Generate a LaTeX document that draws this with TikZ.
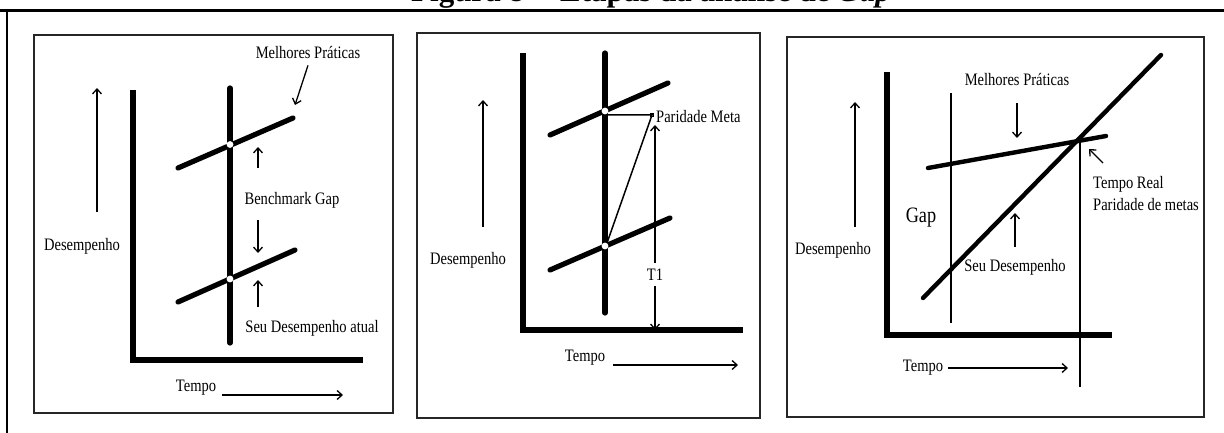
\documentclass[tikz,border=0pt]{standalone}
\usepackage{fontspec}
\setmainfont{Liberation Serif}[FakeStretch=0.83]
\newfontfamily\titlefont{Liberation Serif}
\usetikzlibrary{arrows.meta}

\begin{document}
\begin{tikzpicture}[x=1pt,y=-1pt,
  panel/.style={draw=black!85, line width=1.6pt},
  heavy/.style={line width=5.2pt, line cap=round},
  axes/.style={line width=5.2pt, line cap=butt, line join=miter},
  thin/.style={line width=1.3pt},
  arr/.style={thin, -{Straight Barb[length=5pt,width=9pt]}},
  lbl/.style={inner sep=0pt, font=\fontsize{17.5}{19}\selectfont},
  gapdot/.style={fill=white, draw=none},
]
\useasboundingbox (0,0) rectangle (1224,433);
\clip (0,0) rectangle (1224,433);

% caption line, mostly above the page edge
\node[anchor=base west, inner sep=0pt,
      font=\titlefont\bfseries\fontsize{31}{33}\selectfont] (title) at (411,1.5)
  {Figura 8 -- Etapas da análise de \textit{Gap}};

% outer frame
\draw[line width=2.4pt] (0,10.5) -- (1224,10.5);
\draw[line width=2pt] (6.5,10.5) -- (6.5,433);

% the three panels
\draw[panel] (34,35) rectangle (393,413);
\draw[panel] (417,33) rectangle (760,418);
\draw[panel] (787,37) rectangle (1204,417);

% ---------- panel 1 ----------
\coordinate (a1top) at (133,90);
\coordinate (a1o)   at (133,360);
\coordinate (a1end) at (363,360);
\draw[axes] (a1top) -- (a1o) -- (a1end);
\draw[heavy] (230,88) -- (230,343);
\draw[heavy] (178,168) -- (293,118);
\draw[heavy] (178,302) -- (295,250);
\fill[gapdot] (230,144.5) circle (3.4);
\fill[gapdot] (230,279) circle (3.4);

\node[lbl] (mp1) at (308,53) {Melhores Práticas};
\coordinate (mp1tip) at (295,105);
\draw[arr] (mp1.south) ++(0,6) -- (mp1tip);
\node[lbl] (bg1) at (292,200) {Benchmark Gap};
\draw[arr] (258,168) -- (258,147);
\draw[arr] (258,220) -- (258,253);
\draw[arr] (258,307) -- (258,280);
\node[lbl] (sd1) at (312,328) {Seu Desempenho atual};
\node[lbl] (de1) at (82,246) {Desempenho};
\draw[arr] (97,212) -- (97,88);
\node[lbl] (te1) at (196,388) {Tempo};
\draw[arr] (222,395) -- (343,395);

% ---------- panel 2 ----------
\coordinate (a2top) at (523,53);
\coordinate (a2o)   at (523,330);
\coordinate (a2end) at (743,330);
\draw[axes] (a2top) -- (a2o) -- (a2end);
\draw[heavy] (605,53) -- (605,313);
\draw[heavy] (550,135) -- (668,83);
\draw[heavy] (550,270) -- (670,218);
\fill[gapdot] (605,111) circle (3.4);
\fill[gapdot] (605,246) circle (3.4);

\coordinate (pm) at (652,115);
\draw[line width=1.5pt] (608,115) -- (pm) -- (607,243);
\draw[line width=0.8pt] (pm) ++(-1.5,-1.5) rectangle ++(3,3);
\node[lbl, anchor=west] (pm2) at (656,117) {Paridade Meta};
\node[lbl] (t1) at (655,275) {T1};
\draw[arr] (t1.north) ++(0,-6) -- (655,125);
\draw[arr] (t1.south) ++(0,5) -- (655,330);
\node[lbl] (de2) at (468,260) {Desempenho};
\draw[arr] (483,227) -- (483,100);
\node[lbl] (te2) at (585,358) {Tempo};
\draw[arr] (613,365) -- (738,365);

% ---------- panel 3 ----------
\coordinate (a3top) at (887,72);
\coordinate (a3o)   at (887,335);
\coordinate (a3end) at (1112,335);
\draw[axes] (a3top) -- (a3o) -- (a3end);
\draw[line width=1.7pt] (951,93) -- (951,323);
\draw[line width=1.7pt] (1080,140) -- (1080,387);
\draw[line width=4.4pt, line cap=round] (928,168) -- (1106,136);
\draw[line width=4.4pt, line cap=round] (923,298) -- (1161,55);

\node[lbl] (mp3) at (1017,80) {Melhores Práticas};
\draw[arr] (1017,103) -- (1017,138);
\draw[arr] (1103,163) -- (1089,149);
\node[lbl, anchor=west] (tr3) at (1093,184) {Tempo Real};
\node[lbl, anchor=west] (pd3) at (1093,205) {Paridade de metas};
\node[inner sep=0pt, font=\fontsize{22}{24}\selectfont] (gap3) at (921,218) {Gap};
\draw[arr] (1015,247) -- (1015,213);
\node[lbl] (sd3) at (1015,267) {Seu Desempenho};
\node[lbl] (de3) at (833,250) {Desempenho};
\draw[arr] (855,227) -- (855,102);
\node[lbl] (te3) at (923,368) {Tempo};
\draw[arr] (948,368) -- (1068,368);
\end{tikzpicture}
\end{document}
